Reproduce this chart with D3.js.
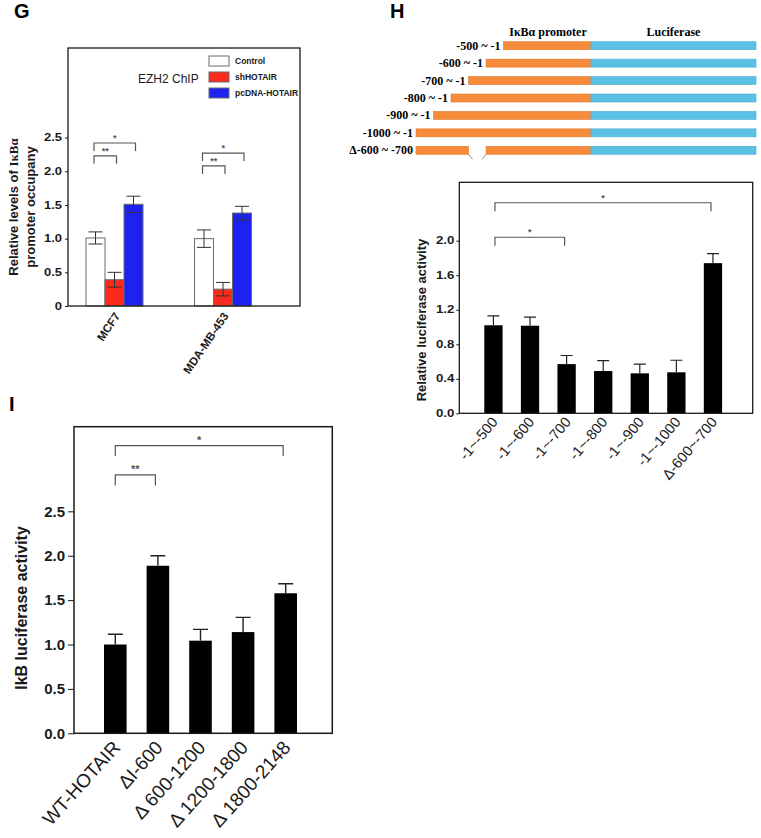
<!DOCTYPE html>
<html>
<head>
<meta charset="utf-8">
<script src="https://cdn.jsdelivr.net/npm/d3@7"></script>
<style>
  html, body { margin: 0; padding: 0; background: #ffffff; }
  svg { display: block; font-family: "Liberation Sans", Arial, sans-serif; }
</style>
</head>
<body>
<svg id="fig" width="761" height="838"></svg>
<script>
// ---------------- Panel G data ----------------
const gGroups = ["MCF7", "MDA-MB-453"];
const gSeries = ["Control", "shHOTAIR", "pcDNA-HOTAIR"];
const gColors = ["#ffffff", "#fb2a1c", "#1e22f0"];
const gControl = [1.01, 1.00];
const gShHOTAIR = [0.39, 0.25];
const gPcDNA = [1.51, 1.38];
const gControlErr = [0.09, 0.13];
const gShHOTAIRErr = [0.11, 0.10];
const gPcDNAErr = [0.12, 0.10];
const gTicks = [0, 0.5, 1.0, 1.5, 2.0, 2.5];
// brackets: group index, series from, series to, level, label
const gBrackets = [
  { g: 0, a: 0, b: 2, y: 2.42, label: "*" },
  { g: 0, a: 0, b: 1, y: 2.23, label: "**" },
  { g: 1, a: 0, b: 2, y: 2.27, label: "*" },
  { g: 1, a: 0, b: 1, y: 2.08, label: "**" }
];

// ---------------- Panel H data ----------------
const hConstructLabels = ["-500 ~ -1", "-600 ~ -1", "-700 ~ -1", "-800 ~ -1", "-900 ~ -1", "-1000 ~ -1", "\u0394-600 ~ -700"];
const hConstructStart = [-500, -600, -700, -800, -900, -1000, -1000];
const hConstructGap = [null, null, null, null, null, null, [-700, -600]];
const hLuciferaseLength = 942;
const hCategories = ["-1~-500", "-1~-600", "-1~-700", "-1~-800", "-1~-900", "-1~-1000", "\u0394-600~-700"];
const hValues = [1.02, 1.015, 0.57, 0.49, 0.463, 0.475, 1.74];
const hErrors = [0.11, 0.10, 0.10, 0.12, 0.107, 0.14, 0.11];
const hTicks = [0.0, 0.4, 0.8, 1.2, 1.6, 2.0];
const hBrackets = [
  { a: 0, b: 6, y: 2.44, label: "*" },
  { a: 0, b: 2, y: 2.04, label: "*" }
];

// ---------------- Panel I data ----------------
const iCategories = ["WT-HOTAIR", "\u0394I-600", "\u0394 600-1200", "\u0394 1200-1800", "\u0394 1800-2148"];
const iValues = [1.00, 1.887, 1.043, 1.14, 1.577];
const iErrors = [0.115, 0.113, 0.127, 0.166, 0.108];
const iTicks = [0.0, 0.5, 1.0, 1.5, 2.0, 2.5];
const iBrackets = [
  { a: 0, b: 4, y: 3.24, label: "*" },
  { a: 0, b: 1, y: 2.91, label: "**" }
];

const svg = d3.select("#fig");
const fmt1 = d3.format(".1f");

function frame(g, x0, y0, x1, y1, w) {
  g.append("rect").attr("x", x0).attr("y", y0).attr("width", x1 - x0).attr("height", y1 - y0)
    .attr("fill", "none").attr("stroke", "#1a1a1a").attr("stroke-width", w);
}
function styleAxis(ax, size, stretch) {
  ax.select(".domain").remove();
  ax.selectAll("text").attr("font-size", size).attr("font-weight", "bold")
    .attr("font-family", "'Liberation Sans', Arial, sans-serif").attr("fill", "#1a1a1a");
  ax.selectAll("line").attr("stroke", "#1a1a1a");
  if (stretch && stretch !== 1) {
    ax.selectAll("text").each(function () {
      const len = this.getComputedTextLength();
      d3.select(this).attr("textLength", len * stretch).attr("lengthAdjust", "spacingAndGlyphs");
    });
  }
}
function bracket(g, xa, xb, y, leg, label, color, fs) {
  g.append("path")
    .attr("d", `M${xa},${y + leg}V${y}H${xb}V${y + leg}`)
    .attr("fill", "none").attr("stroke", color).attr("stroke-width", 1.2);
  g.append("text").attr("x", (xa + xb) / 2).attr("y", y - 2).attr("text-anchor", "middle")
    .attr("font-size", fs).attr("font-weight", "bold").attr("fill", color).text(label);
}

// ================= PANEL G =================
{
  const g = svg.append("g");
  g.append("text").attr("x", 14).attr("y", 18).attr("font-size", 20).attr("font-weight", "bold").text("G");
  const left = 68, top = 48, right = 300, bottom = 306;
  const y = d3.scaleLinear().domain([0, 3.83]).range([bottom, top]);
  const x0 = d3.scaleBand().domain(gGroups).range([60.25, 277.25]);
  const x1 = d3.scaleBand().domain(gSeries).range([-28.5, 28.5]);
  const vals = [gControl, gShHOTAIR, gPcDNA];
  const errs = [gControlErr, gShHOTAIRErr, gPcDNAErr];
  const data = [];
  gGroups.forEach((grp, gi) => gSeries.forEach((s, si) => data.push({
    grp, s, si, v: vals[si][gi], e: errs[si][gi],
    cx: x0(grp) + x0.bandwidth() / 2
  })));
  g.selectAll("rect.bar").data(data).join("rect").attr("class", "bar")
    .attr("x", d => d.cx + x1(d.s)).attr("width", x1.bandwidth())
    .attr("y", d => y(d.v)).attr("height", d => y(0) - y(d.v))
    .attr("fill", d => gColors[d.si]).attr("stroke", "#6a6a6a").attr("stroke-width", 1);
  data.forEach(d => {
    const cx = d.cx + x1(d.s) + x1.bandwidth() / 2;
    const cw = 7;
    g.append("path").attr("d",
      `M${cx},${y(d.v + d.e)}V${y(d.v - d.e)}M${cx - cw},${y(d.v + d.e)}H${cx + cw}M${cx - cw},${y(d.v - d.e)}H${cx + cw}`)
      .attr("stroke", "#333").attr("stroke-width", 1).attr("fill", "none");
  });
  const ax = g.append("g").attr("transform", `translate(${left},0)`)
    .call(d3.axisLeft(y).tickValues(gTicks).tickSize(3).tickPadding(3).tickFormat(d => d === 0 ? "0" : fmt1(d)));
  styleAxis(ax, 10, 1.3);
  frame(g, left, top, right, bottom, 1.3);
  gBrackets.forEach(b => {
    const cx = x0(gGroups[b.g]) + x0.bandwidth() / 2;
    const xa = cx + x1(gSeries[b.a]) + x1.bandwidth() / 2 - 1.5;
    const xb = cx + x1(gSeries[b.b]) + x1.bandwidth() / 2 + 2;
    bracket(g, xa, xb, y(b.y), 8, b.label, "#555", 9);
  });
  // x labels
  gGroups.forEach(grp => {
    const cx = x0(grp) + x0.bandwidth() / 2;
    g.append("text").attr("transform", `translate(${cx + 6},${bottom + 10}) rotate(-56)`)
      .attr("text-anchor", "end").attr("font-size", 11.5).attr("font-weight", "bold").attr("fill", "#1a1a1a").text(grp);
  });
  // y title
  const yt = g.append("text").attr("transform", `translate(18,207) rotate(-90)`)
    .attr("text-anchor", "middle").attr("font-size", 13).attr("font-weight", "bold").attr("fill", "#1a1a1a");
  yt.append("tspan").text("Relative levels of ");
  yt.append("tspan").attr("font-family", "'Liberation Serif', 'Times New Roman', serif").text("I\u03BAB\u03B1");
  g.append("text").attr("transform", `translate(35,207) rotate(-90)`)
    .attr("text-anchor", "middle").attr("font-size", 13).attr("font-weight", "bold").attr("fill", "#1a1a1a")
    .text("promoter occupany");
  // legend
  g.append("text").attr("x", 138).attr("y", 83).attr("font-size", 12).attr("fill", "#1a1a1a").text("EZH2 ChIP");
  gSeries.forEach((s, i) => {
    const ly = 56 + i * 16;
    g.append("rect").attr("x", 209).attr("y", ly).attr("width", 20).attr("height", 10)
      .attr("fill", gColors[i]).attr("stroke", "#6a6a6a").attr("stroke-width", 1);
    g.append("text").attr("x", 235).attr("y", ly + 8).attr("font-size", 8.5).attr("font-weight", "bold")
      .attr("fill", "#1a1a1a").text(s);
  });
}

// ================= PANEL H =================
{
  const g = svg.append("g");
  g.append("text").attr("x", 390).attr("y", 18).attr("font-size", 20).attr("font-weight", "bold").text("H");
  // construct diagram
  const serif = "'Liberation Serif', 'Times New Roman', serif";
  const px = d3.scaleLinear().domain([-1000, hLuciferaseLength]).range([416, 756]);
  const ry = d3.scalePoint().domain(hConstructLabels).range([37, 159]).padding(0.5);
  g.append("text").attr("x", 548).attr("y", 36).attr("text-anchor", "middle").attr("font-family", serif)
    .attr("font-size", 12).attr("font-weight", "bold").text("I\u03BAB\u03B1 promoter");
  g.append("text").attr("x", (px(-1) + px(hLuciferaseLength)) / 2).attr("y", 36).attr("text-anchor", "middle")
    .attr("font-family", serif).attr("font-size", 12).attr("font-weight", "bold").text("Luciferase");
  const bh = 8;
  hConstructLabels.forEach((lab, i) => {
    const cy = ry(lab);
    const s = hConstructStart[i];
    const gap = hConstructGap[i];
    const segs = gap ? [[s, gap[0]], [gap[1], -1]] : [[s, -1]];
    segs.forEach(sg => {
      g.append("rect").attr("x", px(sg[0])).attr("y", cy - bh / 2).attr("width", px(sg[1]) - px(sg[0]))
        .attr("height", bh).attr("fill", "#f68b3c").attr("stroke", "#e57a2c").attr("stroke-width", 0.6);
    });
    if (gap) {
      const xa = px(gap[0]), xb = px(gap[1]);
      g.append("path").attr("d", `M${xa},${cy + bh / 2}L${xa + 4},${cy + bh / 2 + 5}M${xb},${cy + bh / 2}L${xb - 4},${cy + bh / 2 + 5}`)
        .attr("stroke", "#777").attr("stroke-width", 0.8).attr("fill", "none");
    }
    g.append("rect").attr("x", px(-1)).attr("y", cy - bh / 2).attr("width", px(hLuciferaseLength) - px(-1))
      .attr("height", bh).attr("fill", "#5bc1e4").attr("stroke", "#4aaed2").attr("stroke-width", 0.6);
    g.append("text").attr("x", px(s) - 3).attr("y", cy + 4).attr("text-anchor", "end").attr("font-family", serif)
      .attr("font-size", 12).attr("font-weight", "bold").text(lab);
  });

  // bar chart
  const left = 459.3, top = 182.3, right = 752.7, bottom = 413.3;
  const y = d3.scaleLinear().domain([0, 2.677]).range([bottom, top]);
  const x = d3.scaleBand().domain(hCategories).range([466, 740.4]).padding(0.5);
  g.selectAll("rect.hbar").data(hCategories).join("rect").attr("class", "hbar")
    .attr("x", d => x(d)).attr("width", x.bandwidth())
    .attr("y", (d, i) => y(hValues[i])).attr("height", (d, i) => y(0) - y(hValues[i]))
    .attr("fill", "#000");
  hCategories.forEach((c, i) => {
    const cx = x(c) + x.bandwidth() / 2;
    g.append("path").attr("d", `M${cx},${y(hValues[i])}V${y(hValues[i] + hErrors[i])}M${cx - 6},${y(hValues[i] + hErrors[i])}H${cx + 6}`)
      .attr("stroke", "#222").attr("stroke-width", 1.2).attr("fill", "none");
    g.append("text").attr("transform", `translate(${cx + 5},${bottom + 9}) rotate(-50)`)
      .attr("text-anchor", "end").attr("font-size", 14.5).attr("fill", "#1a1a1a").text(c);
  });
  const ax = g.append("g").attr("transform", `translate(${left},0)`)
    .call(d3.axisLeft(y).tickValues(hTicks).tickSize(3).tickPadding(2).tickFormat(fmt1));
  styleAxis(ax, 10, 1.32);
  frame(g, left, top, right, bottom, 1.3);
  hBrackets.forEach(b => {
    const xa = x(hCategories[b.a]) + x.bandwidth() / 2 + 1.5;
    const xb = x(hCategories[b.b]) + x.bandwidth() / 2 - 2;
    bracket(g, xa, xb, y(b.y), 8.5, b.label, "#555", 9);
  });
  g.append("text").attr("transform", `translate(426,320) rotate(-90)`).attr("text-anchor", "middle")
    .attr("font-size", 13).attr("font-weight", "bold").attr("fill", "#1a1a1a").text("Relative luciferase activity");
}

// ================= PANEL I =================
{
  const g = svg.append("g");
  g.append("text").attr("x", 9).attr("y", 411).attr("font-size", 20).attr("font-weight", "bold").text("I");
  const left = 74, top = 426.7, right = 332.3, bottom = 733.3;
  const y = d3.scaleLinear().domain([0, 3.453]).range([bottom, top]);
  const x = d3.scaleBand().domain(iCategories).range([84, 317]).padding(0.47);
  g.selectAll("rect.ibar").data(iCategories).join("rect").attr("class", "ibar")
    .attr("x", d => x(d)).attr("width", x.bandwidth())
    .attr("y", (d, i) => y(iValues[i])).attr("height", (d, i) => y(0) - y(iValues[i]))
    .attr("fill", "#000");
  iCategories.forEach((c, i) => {
    const cx = x(c) + x.bandwidth() / 2;
    g.append("path").attr("d", `M${cx},${y(iValues[i])}V${y(iValues[i] + iErrors[i])}M${cx - 7.5},${y(iValues[i] + iErrors[i])}H${cx + 7.5}`)
      .attr("stroke", "#222").attr("stroke-width", 1.4).attr("fill", "none");
    g.append("text").attr("transform", `translate(${cx + 6},${bottom + 15}) rotate(-48)`)
      .attr("text-anchor", "end").attr("font-size", 19).attr("fill", "#1a1a1a").text(c);
  });
  const ax = g.append("g").attr("transform", `translate(${left},0)`)
    .call(d3.axisLeft(y).tickValues(iTicks).tickSize(6).tickPadding(3).tickFormat(fmt1));
  styleAxis(ax, 15, 1);
  frame(g, left, top, right, bottom, 1.5);
  iBrackets.forEach(b => {
    const xa = x(iCategories[b.a]) + x.bandwidth() / 2;
    const xb = x(iCategories[b.b]) + x.bandwidth() / 2 - 2.5;
    bracket(g, xa, xb, y(b.y), 10.5, b.label, "#555", 11);
  });
  g.append("text").attr("transform", `translate(27,608) rotate(-90)`).attr("text-anchor", "middle")
    .attr("font-size", 16).attr("font-weight", "bold").attr("fill", "#1a1a1a").text("IkB luciferase activity");
}
</script>
</body>
</html>
